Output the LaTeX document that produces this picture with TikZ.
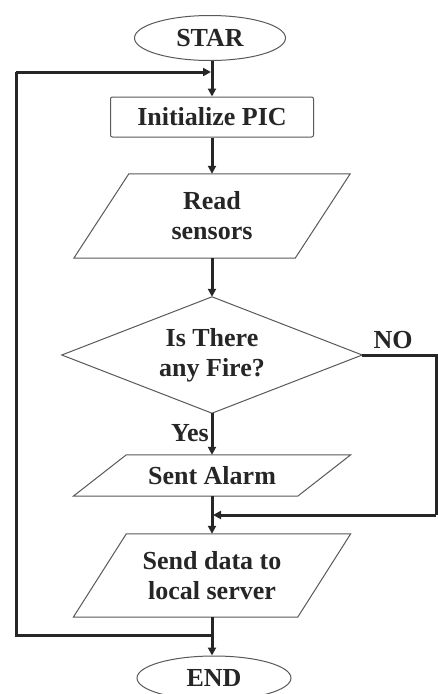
\documentclass[tikz,border=0pt]{standalone}
\usepackage{fontspec}
\setmainfont{Liberation Serif}
\usetikzlibrary{shapes.geometric,arrows.meta,calc}
\begin{document}
\begin{tikzpicture}[x=1pt,y=-1pt,
  txt/.style={font=\fontsize{26}{30}\selectfont\bfseries, text=black!85},
  shapeline/.style={draw=black!65, line width=1pt},
  term/.style={ellipse, shapeline, txt, minimum width=151pt, minimum height=45pt, inner sep=0pt},
  procbox/.style={rectangle, rounded corners=2pt, shapeline, txt, minimum width=203pt, minimum height=40pt, inner sep=0pt},
  holder/.style={rectangle, txt, inner sep=0pt, align=center},
  conn/.style={line width=3pt, draw=black!85, -{Triangle[length=8pt,width=8pt]}},
  plainline/.style={line width=3pt, draw=black!85},
  lbl/.style={txt, inner sep=0pt}
]
\fill[white] (0,0) rectangle (438,694);
\useasboundingbox (0,0) rectangle (438,694);

% nodes
\node[term] (start) at (210,38) {STAR};
\node[procbox] (init) at (212,117) {Initialize PIC};
\node[holder, minimum width=276pt, minimum height=84pt] (read) at (212,216) {Read\\sensors};
\node[holder, minimum width=300pt, minimum height=116pt] (dec) at (212,355) {Is There\\any Fire?};
\node[holder, minimum width=277pt, minimum height=41pt] (alarm) at (212,475.5) {Sent Alarm};
\node[holder, minimum width=277pt, minimum height=83pt] (send) at (212,575.5) {Send data to\\local server};
\node[term, minimum width=154pt, minimum height=44pt] (end) at (214,678) {END};
\node[lbl] (yes) at (190,433) {Yes};
\node[lbl] (no) at (393,340) {NO};

% shape outlines
\draw[shapeline] ($(read.north west)+(55,0)$) -- (read.north east) -- ($(read.south east)+(-55,0)$) -- (read.south west) -- cycle;
\draw[shapeline] (dec.north) -- (dec.east) -- (dec.south) -- (dec.west) -- cycle;
\draw[shapeline] ($(alarm.north west)+(53,0)$) -- (alarm.north east) -- ($(alarm.south east)+(-53,0)$) -- (alarm.south west) -- cycle;
\draw[shapeline] ($(send.north west)+(53,0)$) -- (send.north east) -- ($(send.south east)+(-53,0)$) -- (send.south west) -- cycle;

% coordinates
\coordinate (top) at (211,72);
\coordinate (merge) at (213,515);
\coordinate (join) at (212,635);
\coordinate (lb) at (16,635);
\coordinate (lt) at (16,72);
\coordinate (rt) at (436,355);
\coordinate (rb) at (436,515);

% connectors
\draw[conn] (start.south -| init.north) -- (init.north);
\draw[conn] (init.south) -- (read.north);
\draw[conn] (read.south) -- (dec.north);
\draw[conn] (dec.south) -- (alarm.north);
\draw[conn] (alarm.south) -- (send.north);
\draw[conn] (send.south) -- (end.north -| send.south);
\draw[plainline] (dec.east) -- (rt) -- (rb);
\draw[conn] (rb) -- (merge);
\draw[plainline] (join) -- (lb) -- (lt);
\draw[conn] (lt) -- (top);
\end{tikzpicture}
\end{document}
